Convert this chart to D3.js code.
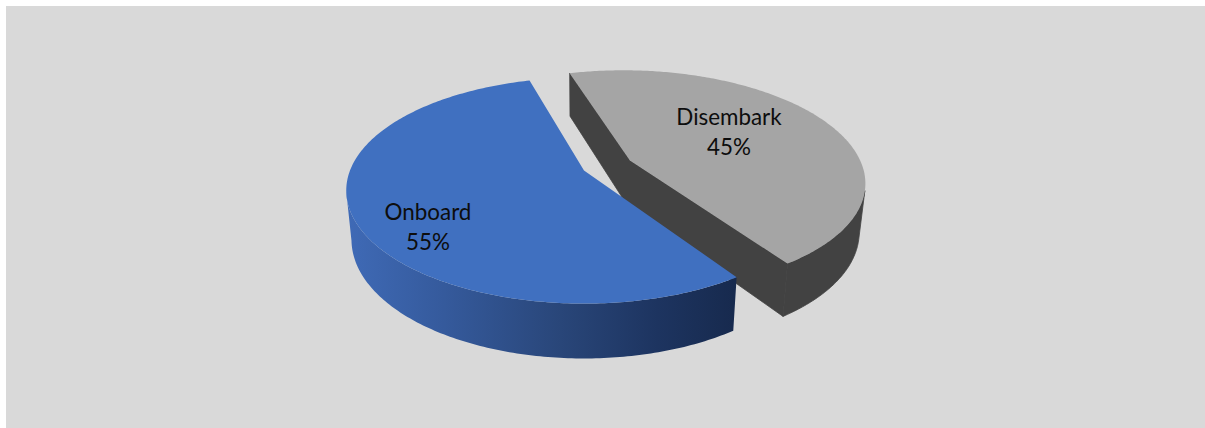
<!DOCTYPE html>
<html>
<head>
<meta charset="utf-8">
<script src="https://cdn.jsdelivr.net/npm/d3@7"></script>
<style>
  html, body { margin: 0; padding: 0; background: #fff; }
  svg { display: block; }
  text { font-family: Lato, "Noto Sans", sans-serif; fill: #0d0d0d; }
</style>
</head>
<body>
<svg id="chart" width="1205" height="428"></svg>
<script>
// Share of passengers by movement type
const categories = ["Onboard", "Disembark"];
const shares = [55, 45];
const shareLabels = ["55%", "45%"];
const topColors = ["#4070c0", "#a5a5a5"];

const width = 1205, height = 428;
const svg = d3.select("#chart");
const deg = Math.PI / 180;

// Perspective model of the disc: the far rim shrinks, the near rim grows
const cx = 584, cy = 170.5, radiusX = 234, radiusY = 109.5, persp = 0.177;
const explodeDist = [0, 0.22];

function project(theta, r, ox = 0, oy = 0) {
  const X = ox + r * Math.sin(theta);
  const Y = oy + r * Math.cos(theta);
  const s = 1 / (1 + persp * Y);
  return [cx + radiusX * X * s, cy - radiusY * Y * s];
}

// Same point on the underside of the extruded disc
function drop([x, y]) {
  return [cx + (x - cx) * 0.978, y + 48 + 0.052 * (y - cy)];
}

const line = d3.line();

// Clockwise from the Onboard slice, which starts at lower right
const slices = d3.pie().sort(null).startAngle(146.2 * deg).endAngle(506.2 * deg)(shares);

const defs = svg.append("defs");
const wallGrad = defs.append("linearGradient")
  .attr("id", "onboardWall")
  .attr("gradientUnits", "userSpaceOnUse")
  .attr("x1", 347).attr("x2", 735).attr("y1", 0).attr("y2", 0);
[[0, "#3f6ab6"], [0.25, "#355a9c"], [0.55, "#294679"], [0.8, "#1d3460"], [1, "#172a4e"]]
  .forEach(([o, c]) => wallGrad.append("stop").attr("offset", o).attr("stop-color", c));

svg.append("rect")
  .attr("x", 6).attr("y", 6)
  .attr("width", width - 6).attr("height", height - 6)
  .attr("fill", "#d9d9d9");

function sliceGeometry(d, i) {
  const mid = (d.startAngle + d.endAngle) / 2;
  const ox = explodeDist[i] * Math.sin(mid);
  const oy = explodeDist[i] * Math.cos(mid);
  const angles = d3.range(0, 241).map(k =>
    d.startAngle + (d.endAngle - d.startAngle) * k / 240);
  const arcPts = angles.map(a => project(a, 1, ox, oy));
  // Only the rim turned towards the viewer shows a wall
  const nearPts = angles
    .filter(a => oy + Math.cos(a) < -persp)
    .map(a => project(a, 1, ox, oy));
  return { apex: project(0, 0, ox, oy), arcPts, nearPts };
}

// Exploded grey slice goes first: the blue slice overlaps its cut face
[1, 0].forEach(i => {
  const { apex, arcPts, nearPts } = sliceGeometry(slices[i], i);
  const g = svg.append("g").attr("class", "slice");
  const wallFill = i === 0 ? "url(#onboardWall)" : "#424242";

  // Outer rim wall
  const rim = g.append("path")
    .attr("d", line([...nearPts, ...nearPts.map(drop).reverse()]) + "Z")
    .attr("fill", wallFill);
  if (i === 1) rim.attr("stroke", "#424242").attr("stroke-width", 0.8);

  // Cut faces as one outline, only the Disembark ones can be seen
  if (i === 1) {
    const first = arcPts[0], last = arcPts[arcPts.length - 1];
    g.append("path")
      .attr("d", line([first, drop(first), drop(apex), drop(last), last, apex]) + "Z")
      .attr("fill", "#424242")
      .attr("stroke", "#424242")
      .attr("stroke-width", 0.8);
  }

  // Top face
  g.append("path")
    .attr("d", line([apex, ...arcPts]) + "Z")
    .attr("fill", topColors[i]);
});

// Data labels
const labelCenters = [[428, 220], [729, 125]];
categories.forEach((name, i) => {
  const t = svg.append("text")
    .attr("text-anchor", "middle")
    .attr("font-size", 22.4);
  t.append("tspan").attr("x", labelCenters[i][0]).attr("y", labelCenters[i][1]).text(name);
  t.append("tspan").attr("x", labelCenters[i][0]).attr("y", labelCenters[i][1] + 29.5).text(shareLabels[i]);
});
</script>
</body>
</html>
